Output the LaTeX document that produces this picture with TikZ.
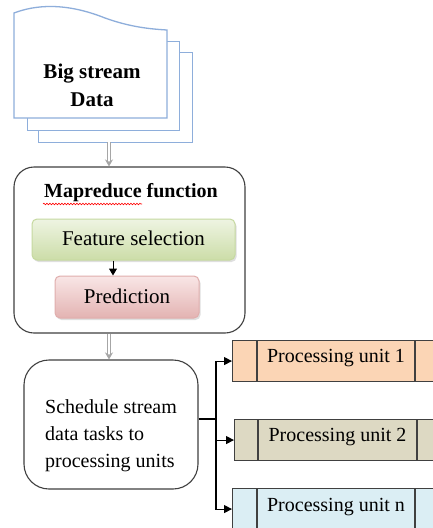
\documentclass[tikz,border=0pt]{standalone}
\usepackage{fontspec}
\setmainfont{Liberation Serif}
\usetikzlibrary{arrows.meta,shadows,decorations.pathmorphing}
\definecolor{sheetblue}{HTML}{8EAEDB}
\definecolor{pupeach}{HTML}{FBD5B5}
\definecolor{pukhaki}{HTML}{DDD9C3}
\definecolor{publue}{HTML}{DBEEF4}
\definecolor{greentop}{HTML}{EEF4E2}
\definecolor{greenbot}{HTML}{CCDDA8}
\definecolor{greenedge}{HTML}{C6D9A0}
\definecolor{pinktop}{HTML}{F9E6E6}
\definecolor{pinkbot}{HTML}{E3B3B2}
\definecolor{pinkedge}{HTML}{E0AEAD}
\definecolor{boxedge}{HTML}{404040}
\tikzset{
  sheet/.style={draw=sheetblue, line width=1.3pt, fill=white, anchor=north west, inner sep=0pt},
  roundbox/.style={draw=boxedge, line width=1.1pt, fill=white, inner sep=0pt},
  featbox/.style={draw=greenedge, line width=1pt, rounded corners=5pt, top color=greentop, bottom color=greenbot,
    drop shadow={opacity=0.25, shadow xshift=1.5pt, shadow yshift=-2pt}, inner sep=0pt},
  predbox/.style={draw=pinkedge, line width=1pt, rounded corners=5pt, top color=pinktop, bottom color=pinkbot,
    drop shadow={opacity=0.25, shadow xshift=1.5pt, shadow yshift=-2pt}, inner sep=0pt},
  pubox/.style={draw=boxedge, line width=1.1pt, anchor=north west, inner sep=0pt, minimum width=230pt, minimum height=41pt},
  divider/.style={draw=boxedge, line width=1.1pt},
  txt/.style={font=\fontsize{20}{27}\selectfont, inner sep=0pt},
  dblarrow/.style={draw=gray!70, double=white, double distance=2.2pt, line width=1.3pt, -{Stealth[length=7pt,width=8pt]}},
  conn/.style={draw=black, line width=1.1pt},
  connarrow/.style={draw=black, line width=1.1pt, -{Triangle[length=8pt,width=8pt]}},
}
\begin{document}
\begin{tikzpicture}[x=1pt,y=-1pt]
\clip (0,0) rectangle (433,528);
\fill[white] (0,0) rectangle (433,528);
% document stack
\node[sheet, minimum width=154pt, minimum height=90pt] (s3) at (38,52) {};
\node[sheet, minimum width=152pt, minimum height=89pt] (s2) at (27,41) {};
\draw[draw=sheetblue, line width=1.3pt, fill=white]
  (14,118) -- (14,13) .. controls (35,5) and (65,2) .. (105,18)
  .. controls (130,27) and (150,29) .. (167,30) -- (167,118) -- cycle;
\node[txt, font=\fontsize{21}{28}\selectfont\bfseries, align=center] (doc) at (92,85) {Big stream\\Data};
\coordinate (a1) at (109,142);
% mapreduce box
\node[roundbox, rounded corners=20pt, minimum width=231pt, minimum height=166pt] (map) at (129.5,250) {};
\node[txt, font=\fontsize{20}{27}\selectfont\bfseries] (maptitle) at (131,193) {Mapreduce function};
\draw[red, line width=0.6pt, decorate, decoration={snake, amplitude=0.8pt, segment length=3pt}] (43,204) -- (142,204);
\node[featbox, minimum width=203pt, minimum height=41pt] (feat) at (133.5,239.5) {};
\node[txt, font=\fontsize{21}{27}\selectfont] (feattxt) at (133.5,238) {Feature selection};
\node[predbox, minimum width=144pt, minimum height=42pt] (pred) at (127,297) {};
\node[txt, font=\fontsize{21}{27}\selectfont] (predtxt) at (127,296) {Prediction};
\coordinate (c1) at (113,0);
\draw[connarrow, line width=1pt, -{Triangle[length=7pt,width=8pt]}] (feat.south -| c1) -- (pred.north -| c1);
\draw[dblarrow] (a1) -- (a1 |- map.north);
% schedule box
\node[roundbox, rounded corners=25pt, minimum width=174pt, minimum height=129pt] (sched) at (111,424.5) {};
\node[txt, align=left] (schedtxt) at (111,436) {Schedule stream\\data tasks to\\processing units};
\coordinate (a2) at (109,0);
\draw[dblarrow] (map.south -| a2) -- (sched.north -| a2);
% processing units
\node[pubox, fill=pupeach] (pu1) at (232,340) {};
\node[pubox, fill=pukhaki] (pu2) at (234,419) {};
\node[pubox, fill=publue] (pun) at (232,488) {};
\draw[divider] (257,340) -- (257,381) (415,340) -- (415,381);
\draw[divider] (258,419) -- (258,460) (417,419) -- (417,460);
\draw[divider] (257,488) -- (257,529) (415,488) -- (415,529);
\node[txt] (pu1txt) at (336,358) {Processing unit 1};
\node[txt] (pu2txt) at (337.5,437) {Processing unit 2};
\node[txt] (puntxt) at (336,507) {Processing unit n};
% connectors
\coordinate (j) at (216,419);
\draw[conn] (sched.east |- j) -- (j);
\draw[connarrow] (j) |- (pu1.west);
\draw[connarrow] (j) |- (pu2.west);
\draw[connarrow] (j) |- (pun.west);
\end{tikzpicture}
\end{document}
